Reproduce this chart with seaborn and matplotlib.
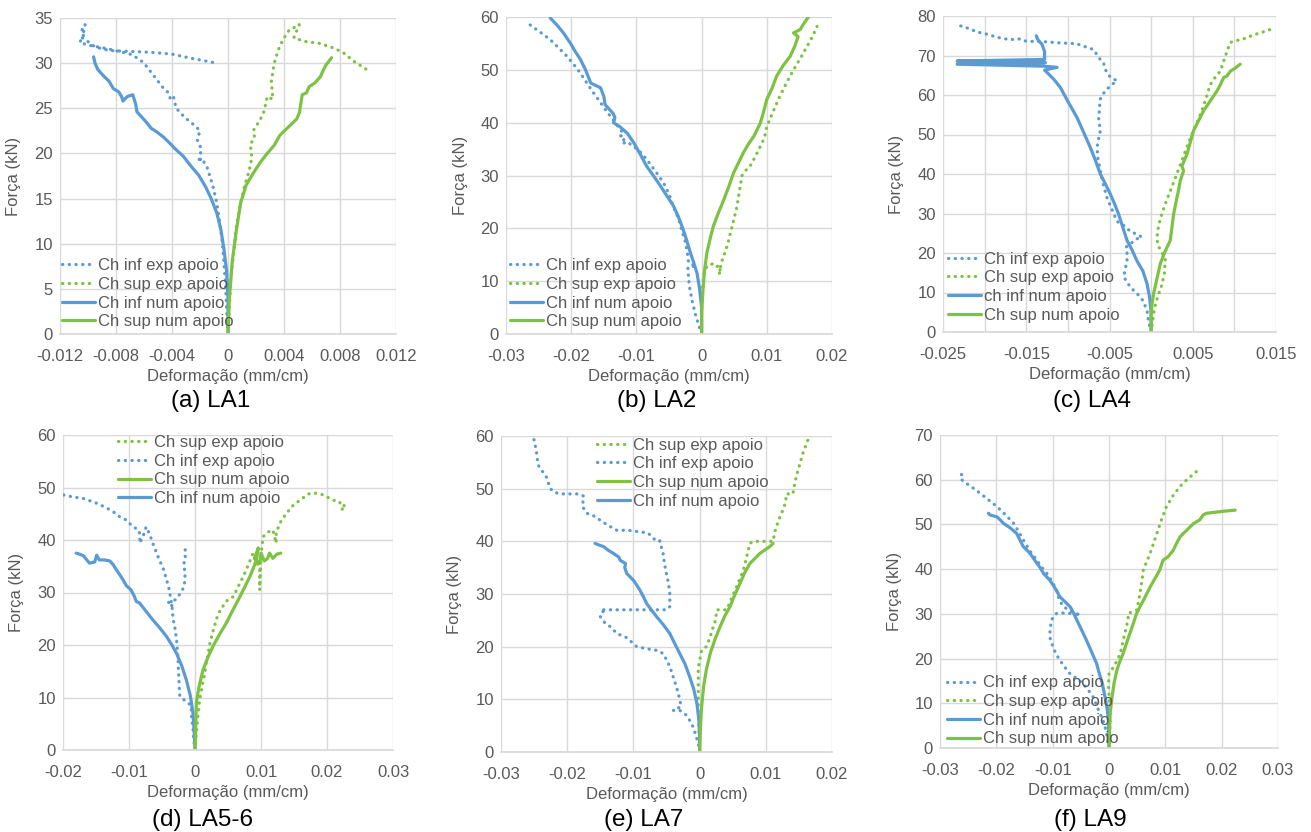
import numpy as np
import pandas as pd
import seaborn as sns
import matplotlib
matplotlib.use("Agg")
import matplotlib.pyplot as plt
from matplotlib.lines import Line2D

# ---------------- DATA ----------------
# (a) LA1
a_inf_exp_x = [0, -0.0001, -0.0002, -0.0003, -0.0004, -0.0006, -0.0008, -0.0011, -0.0015, -0.0019, -0.0021, -0.0019, -0.0022, -0.0020, -0.0023, -0.0027, -0.0031, -0.0034, -0.0037, -0.0039, -0.0041, -0.0043, -0.0045, -0.0050, -0.0055, -0.0060, -0.0064, -0.0070, -0.0078, -0.0086, -0.0093, -0.0100, -0.0106, -0.0103, -0.0105, -0.0102, -0.0104, -0.0101, -0.0095, -0.0085, -0.0070, -0.0055, -0.0040, -0.0025, -0.0008]
a_inf_exp_y = [0, 3, 6, 8, 10, 12.5, 14.5, 16.5, 18.5, 19.5, 19.0, 20.5, 21.5, 22.5, 23.0, 23.5, 24.0, 24.5, 25.0, 26.3, 26.0, 26.8, 27.0, 28.0, 29.0, 30.0, 30.5, 31.0, 31.3, 31.6, 31.8, 32.0, 32.3, 33.0, 33.5, 34.3, 32.8, 32.5, 31.8, 31.4, 31.3, 31.2, 31.0, 30.5, 30.0]
a_inf_num_x = [0, 0, -0.0001, -0.0003, -0.0005, -0.0008, -0.0012, -0.0016, -0.0021, -0.0027, -0.0032, -0.0037, -0.0042, -0.0046, -0.0051, -0.0055, -0.0058, -0.0062, -0.0065, -0.0066, -0.0068, -0.0072, -0.0075, -0.0076, -0.0078, -0.0082, -0.0085, -0.0089, -0.0093, -0.0095, -0.0096]
a_inf_num_y = [0, 4, 7, 9.5, 11.5, 13.4, 15, 16.3, 17.6, 18.7, 19.7, 20.4, 21.2, 21.8, 22.4, 22.8, 23.4, 24.1, 24.6, 25.5, 26.5, 26.3, 25.8, 26.3, 26.8, 27.2, 28.0, 28.6, 29.3, 30.0, 30.7]
a_sup_exp_x = [0, 0.0001, 0.0002, 0.0004, 0.0006, 0.0009, 0.0012, 0.0015, 0.0017, 0.0016, 0.0019, 0.0018, 0.0022, 0.0025, 0.0027, 0.0028, 0.0032, 0.0031, 0.0033, 0.0036, 0.0039, 0.0042, 0.0044, 0.0048, 0.0051, 0.0047, 0.0055, 0.0065, 0.0075, 0.0082, 0.0090, 0.0099]
a_sup_exp_y = [0, 3, 6, 9, 12, 14.5, 16.5, 18.0, 19.5, 21.0, 21.8, 22.5, 23.5, 24.3, 25.5, 26.3, 26.0, 28.0, 30.0, 31.5, 32.5, 33.3, 33.7, 34.0, 34.3, 32.8, 32.4, 32.2, 31.7, 31.2, 30.2, 29.3]
a_sup_num_x = [0, 0.0001, 0.0003, 0.0006, 0.0009, 0.0013, 0.0018, 0.0023, 0.0028, 0.0033, 0.0037, 0.0041, 0.0045, 0.0049, 0.0051, 0.0052, 0.0053, 0.0056, 0.0058, 0.0062, 0.0066, 0.0068, 0.0070, 0.0072, 0.0074]
a_sup_num_y = [0, 4, 8, 11.5, 14.5, 16.5, 17.8, 19.0, 20.0, 20.9, 22.0, 22.6, 23.2, 23.8, 24.5, 25.5, 26.5, 26.7, 27.4, 27.8, 28.5, 29.2, 29.8, 30.2, 30.6]

# (b) LA2
b_inf_exp_x = [0, -0.0004, -0.0009, -0.0014, -0.0018, -0.0020, -0.0021, -0.0019, -0.0008, -0.0020, -0.0022, -0.0025, -0.0030, -0.0036, -0.0043, -0.0050, -0.0058, -0.0066, -0.0075, -0.0084, -0.0092, -0.0100, -0.0108, -0.0114, -0.0122, -0.0118, -0.0124, -0.0120, -0.0128, -0.0135, -0.0145, -0.0155, -0.0165, -0.0176, -0.0186, -0.0196, -0.0206, -0.0218, -0.0232, -0.0246, -0.0263]
b_inf_exp_y = [0, 1.5, 3.5, 6, 8.5, 10.5, 12.5, 12.8, 12.8, 13.5, 15.5, 17.5, 19.5, 22, 24, 26.5, 28.5, 30, 31.5, 33, 34.2, 35.1, 35.8, 36.4, 36, 37.2, 37.5, 38, 39.2, 40.5, 42, 43.8, 45.5, 47.5, 49.4, 51, 52.5, 54, 55.7, 57, 58.5]
b_inf_num_x = [0, 0, -0.0003, -0.0007, -0.0012, -0.0017, -0.0023, -0.0030, -0.0036, -0.0043, -0.0053, -0.0063, -0.0074, -0.0084, -0.0094, -0.0104, -0.0114, -0.0125, -0.0135, -0.0133, -0.0136, -0.0148, -0.0150, -0.0155, -0.0170, -0.0178, -0.0186, -0.0194, -0.0201, -0.0212, -0.0222, -0.0232]
b_inf_num_y = [0, 5, 8.5, 11.5, 13.5, 15.3, 17.8, 20.4, 22.3, 24.2, 26.1, 28, 30, 31.7, 34, 36.2, 38, 39.2, 40, 41, 41.8, 43.4, 45, 46.6, 47.5, 50, 52, 53.5, 55, 57, 58.5, 59.8]
b_sup_exp_x = [0, 0, 0.0001, 0.0003, 0.0008, 0.0013, 0.0018, 0.0024, 0.0029, 0.0027, 0.0030, 0.0034, 0.0036, 0.0040, 0.0044, 0.0049, 0.0054, 0.0058, 0.0062, 0.0068, 0.0074, 0.0082, 0.0090, 0.0095, 0.0097, 0.0100, 0.0110, 0.0120, 0.0130, 0.0141, 0.0152, 0.0162, 0.0170, 0.0177]
b_sup_exp_y = [0, 4, 8, 11, 12.8, 13, 13.4, 12.8, 12.8, 11.2, 13.5, 14.7, 15.5, 17.0, 19.0, 21.5, 24.0, 27.0, 30.0, 31.0, 31.7, 33.5, 35.5, 36.8, 37.5, 39.3, 42.2, 45.0, 47.5, 50.0, 52.3, 54.5, 56.3, 58.2]
b_sup_num_x = [0, 0, 0.0002, 0.0004, 0.0008, 0.0013, 0.0018, 0.0026, 0.0034, 0.0042, 0.0049, 0.0057, 0.0064, 0.0072, 0.0080, 0.0090, 0.0095, 0.0100, 0.0108, 0.0115, 0.0125, 0.0136, 0.0143, 0.0148, 0.0141, 0.0151, 0.0158, 0.0164]
b_sup_num_y = [0, 4, 8, 11.5, 15.3, 18, 20.4, 23, 25.4, 28, 30.5, 32.5, 34.3, 36, 37.4, 39.9, 42, 44.4, 46.5, 48.8, 50.8, 52.6, 54.5, 56.3, 57, 57.6, 59, 60]

# (c) LA4
c_inf_exp_x = [0, -0.0003, -0.0005, -0.0010, -0.0016, -0.0021, -0.0027, -0.0033, -0.0031, -0.0029, -0.0029, -0.0030, -0.0017, -0.0011, -0.0015, -0.0025, -0.0033, -0.0041, -0.0047, -0.0053, -0.0057, -0.0061, -0.0064, -0.0065, -0.0063, -0.0061, -0.0063, -0.0062, -0.0061, -0.0058, -0.0053, -0.0046, -0.0041, -0.0049, -0.0054, -0.0057, -0.0063, -0.0069, -0.0090, -0.0110, -0.0129, -0.0150, -0.0157, -0.0170, -0.0185, -0.0197, -0.0210, -0.0217, -0.0229]
c_inf_exp_y = [0, 2.5, 5.5, 8, 9.5, 10.5, 12, 14, 16, 18, 20, 21.5, 23.6, 24, 24.5, 25.5, 27, 28, 31, 34, 37, 40.8, 44, 46.7, 49, 51, 54, 56.8, 59, 60.2, 61.5, 62.8, 63.6, 64.5, 66, 68, 69.5, 71.5, 73.0, 73.2, 73.5, 73.6, 74.2, 74.0, 74.6, 75.4, 76.0, 76.7, 77.5]
c_inf_num_x = [0, 0, -0.0002, -0.0005, -0.0010, -0.0017, -0.0023, -0.0029, -0.0034, -0.0039, -0.0044, -0.0049, -0.0055, -0.0061, -0.0067, -0.0073, -0.0081, -0.0089, -0.0099, -0.0109, -0.0117, -0.0125, -0.0128, -0.0113, -0.0129, -0.0233, -0.0127, -0.0233, -0.0128, -0.0128, -0.0131, -0.0136, -0.0138]
c_inf_num_y = [0, 5, 9, 12.3, 15.5, 18, 20.8, 23.2, 26.5, 29.8, 32.5, 34.9, 37.5, 40, 43.5, 46.7, 50.5, 54.3, 58, 61.9, 64, 65.7, 66.3, 67.0, 67.3, 67.8, 68.2, 68.6, 69.0, 71.0, 72.8, 74.0, 75.0]
c_sup_exp_x = [0, 0.0002, 0.0004, 0.0008, 0.0013, 0.0016, 0.0017, 0.0012, 0.0008, 0.0007, 0.0009, 0.0013, 0.0018, 0.0023, 0.0029, 0.0035, 0.0041, 0.0047, 0.0053, 0.0059, 0.0065, 0.0071, 0.0077, 0.0083, 0.0087, 0.0091, 0.0095, 0.0103, 0.0111, 0.0123, 0.0135, 0.0142, 0.0149]
c_sup_exp_y = [0, 3, 6, 9, 12, 15, 18.5, 20.5, 22, 24, 27, 30, 33, 35.7, 39, 42.3, 45.7, 49, 52, 55, 58.5, 62.6, 64.5, 66, 68.5, 71, 73.3, 73.8, 74.2, 75.2, 76.0, 76.5, 77]
c_sup_num_x = [0, 0, 0.0001, 0.0003, 0.0007, 0.0011, 0.0017, 0.0023, 0.0025, 0.0027, 0.0030, 0.0033, 0.0035, 0.0039, 0.0037, 0.0043, 0.0047, 0.0051, 0.0057, 0.0063, 0.0071, 0.0079, 0.0083, 0.0087, 0.0091, 0.0095, 0.0101, 0.0107]
c_sup_num_y = [0, 4, 7, 9.7, 13.5, 17.3, 20.5, 23.2, 26.5, 29.8, 33, 36, 38.3, 40.8, 42, 45, 48, 51, 53.5, 56, 58.5, 61, 62.5, 64.4, 64.8, 66, 66.8, 67.8]

# (d) LA5-6
d_inf_exp_x = [0, -0.0002, -0.0003, -0.0005, -0.0006, -0.0023, -0.0024, -0.0025, -0.0026, -0.0028, -0.0030, -0.0033, -0.0035, -0.0039, -0.0043, -0.0048, -0.0054, -0.0059, -0.0064, -0.0069, -0.0074, -0.0079, -0.0084, -0.0083, -0.0086, -0.0094, -0.0104, -0.0115, -0.0125, -0.0137, -0.0149, -0.0160, -0.0169, -0.0185, -0.0200]
d_inf_exp_y = [0, 2, 4, 6, 8.5, 10.2, 12.5, 15, 18, 21, 23, 24.8, 27.5, 30.5, 32.4, 34.5, 36.2, 37.8, 39.4, 41.2, 42.5, 40.6, 39.4, 41, 42, 42.5, 43.8, 44.5, 45.5, 46.3, 47, 47.5, 47.9, 48.2, 48.6]
d_inf_exp2_x = [-0.0035, -0.0042, -0.0030, -0.0024, -0.0019, -0.0016, -0.0015, -0.0017, -0.0014, -0.0016, -0.0013]
d_inf_exp2_y = [27.5, 28.0, 28.6, 29.5, 30.5, 31.5, 33.5, 35.5, 36.5, 37.5, 39.0]
d_inf_num_x = [0, -0.0001, -0.0003, -0.0007, -0.0013, -0.0020, -0.0028, -0.0035, -0.0043, -0.0053, -0.0064, -0.0074, -0.0084, -0.0089, -0.0092, -0.0097, -0.0104, -0.0109, -0.0114, -0.0119, -0.0124, -0.0129, -0.0137, -0.0145, -0.0149, -0.0152, -0.0160, -0.0169, -0.0175, -0.0180]
d_inf_num_y = [0, 3, 7, 10.3, 13.3, 16, 18.4, 20, 21.6, 23.2, 24.8, 26.4, 28, 28.3, 29.3, 30.5, 31.3, 32.4, 33.4, 34.3, 35.3, 36.0, 36.2, 36.2, 37.1, 35.8, 35.6, 37.0, 37.3, 37.5]
d_sup_exp_x = [0, 0.0002, 0.0004, 0.0007, 0.0010, 0.0012, 0.0015, 0.0017, 0.0020, 0.0022, 0.0027, 0.0032, 0.0037, 0.0042, 0.0047, 0.0052, 0.0058, 0.0065, 0.0073, 0.0080, 0.0088, 0.0093, 0.0098, 0.0098, 0.0100, 0.0103, 0.0110, 0.0118, 0.0123, 0.0123, 0.0130, 0.0138, 0.0148, 0.0159, 0.0167, 0.0174, 0.0185, 0.0194, 0.0209, 0.0219, 0.0224, 0.0226, 0.0229]
d_sup_exp_y = [0, 3, 6, 9.5, 11.5, 13, 14.6, 16.5, 18.4, 20, 22.5, 24.8, 26.3, 27.3, 28.3, 28.8, 29.2, 31, 33, 35, 37.5, 36, 34.3, 30.5, 37, 40.6, 41.5, 41.9, 39.4, 41.5, 43.5, 45, 46.5, 47.6, 48.3, 48.9, 48.9, 48.6, 47.6, 47.3, 45.6, 46.6, 47.6]
d_sup_num_x = [0, 0.0001, 0.0002, 0.0006, 0.0012, 0.0019, 0.0027, 0.0037, 0.0047, 0.0058, 0.0068, 0.0076, 0.0083, 0.0088, 0.0093, 0.0096, 0.0090, 0.0098, 0.0100, 0.0105, 0.0110, 0.0113, 0.0118, 0.0124, 0.0130]
d_sup_num_y = [0, 4, 8.9, 12, 15.2, 17.5, 19.7, 22, 24.1, 26.8, 29.2, 31.2, 33, 34.5, 36.2, 38.5, 36.5, 35.5, 37.5, 36.0, 36.5, 37.5, 36.5, 37.3, 37.5]

# (e) LA7
e_inf_exp_x = [0, -0.0002, -0.0005, -0.0010, -0.0015, -0.0020, -0.0025, -0.0030, -0.0040, -0.0028, -0.0030, -0.0035, -0.0040, -0.0045, -0.0050, -0.0055, -0.0065, -0.0080, -0.0095, -0.0110, -0.0125, -0.0135, -0.0143, -0.0150, -0.0145, -0.0150, -0.0130, -0.0100, -0.0070, -0.0050, -0.0045, -0.0045, -0.0047, -0.0050, -0.0053, -0.0055, -0.0058, -0.0060, -0.0065, -0.0078, -0.0090, -0.0108, -0.0125, -0.0138, -0.0150, -0.0162, -0.0170, -0.0177, -0.0175, -0.0185, -0.0200, -0.0212, -0.0222, -0.0226, -0.0231, -0.0238, -0.0244, -0.0246, -0.0248, -0.0251]
e_inf_exp_y = [0, 1.5, 2.9, 4.8, 6, 7, 7.5, 7.9, 7.9, 8.6, 10, 12.4, 14.3, 16.2, 17.5, 18.7, 19.3, 19.6, 20, 21.7, 22.5, 23.8, 24.5, 25.7, 26.6, 27, 27, 27, 27, 27, 27.6, 30, 32, 33.8, 35.7, 37.6, 39, 40.1, 40, 41.6, 41.8, 42.1, 42.1, 43, 44, 45, 45.3, 46.6, 48.6, 49, 49, 49, 49.5, 50.2, 52.1, 53.4, 54.5, 56.6, 58, 59.8]
e_inf_num_x = [0, 0, -0.0001, -0.0004, -0.0009, -0.0015, -0.0022, -0.0030, -0.0038, -0.0045, -0.0055, -0.0065, -0.0073, -0.0080, -0.0085, -0.0090, -0.0095, -0.0100, -0.0110, -0.0113, -0.0112, -0.0120, -0.0122, -0.0130, -0.0138, -0.0145, -0.0152, -0.0158]
e_inf_num_y = [0, 3, 6, 9.2, 12, 14.3, 16.7, 18.7, 20.7, 22.5, 24.2, 25.7, 27, 28.2, 29.5, 30.7, 31.7, 32.6, 33.9, 35, 35.8, 36.4, 37, 37.7, 38.3, 39, 39.3, 39.6]
e_sup_exp_x = [0, -0.0001, -0.0002, -0.0002, -0.0002, 0.0003, 0.0010, 0.0015, 0.0020, 0.0024, 0.0026, 0.0033, 0.0041, 0.0046, 0.0051, 0.0058, 0.0066, 0.0071, 0.0076, 0.0081, 0.0095, 0.0111, 0.0113, 0.0116, 0.0121, 0.0126, 0.0130, 0.0131, 0.0136, 0.0141, 0.0143, 0.0146, 0.0151, 0.0156, 0.0161, 0.0166]
e_sup_exp_y = [0, 4, 8, 12.4, 16, 19.3, 20, 21.5, 23.5, 25, 27, 27, 27, 28.5, 30, 32, 34.5, 37, 39.6, 40, 40, 40, 41.5, 42.8, 44.5, 46, 47.5, 49, 49, 49, 50.5, 52.3, 54.5, 56.7, 58.4, 60]
e_sup_num_x = [0, 0.0001, 0.0003, 0.0006, 0.0010, 0.0016, 0.0023, 0.0031, 0.0038, 0.0046, 0.0053, 0.0061, 0.0068, 0.0076, 0.0084, 0.0091, 0.0099, 0.0106, 0.0111]
e_sup_num_y = [0, 4, 8.5, 12.4, 15.5, 18.7, 21.3, 23.8, 25.8, 27.6, 29.8, 32, 34, 35.8, 36.8, 37.7, 38.4, 39, 39.6]

# (f) LA9
f_inf_exp_x = [0, -0.0003, -0.0007, -0.0011, -0.0016, -0.0022, -0.0028, -0.0037, -0.0046, -0.0057, -0.0069, -0.0078, -0.0087, -0.0094, -0.0099, -0.0104, -0.0105, -0.0104, -0.0102, -0.0098, -0.0093, -0.0081, -0.0069, -0.0051, -0.0065, -0.0080, -0.0088, -0.0093, -0.0100, -0.0110, -0.0120, -0.0128, -0.0140, -0.0152, -0.0160, -0.0169, -0.0184, -0.0199, -0.0214, -0.0228, -0.0243, -0.0258, -0.0264, -0.0260]
f_inf_exp_y = [0, 2.5, 4.7, 6.3, 7.7, 9.5, 11.4, 13, 14.4, 15.5, 16.6, 18, 19.6, 21, 22.6, 24, 25.6, 27, 28.6, 29.5, 30.1, 30.2, 30.1, 29.7, 30.5, 31.5, 33, 35.3, 37, 39, 40.5, 42, 44, 46.5, 48.3, 50.2, 52.2, 54, 55.5, 56.9, 58.3, 59.6, 60.3, 61.8]
f_inf_num_x = [0, -0.0001, -0.0003, -0.0007, -0.0012, -0.0018, -0.0022, -0.0031, -0.0040, -0.0049, -0.0057, -0.0063, -0.0069, -0.0078, -0.0087, -0.0096, -0.0105, -0.0110, -0.0116, -0.0122, -0.0128, -0.0134, -0.0140, -0.0146, -0.0152, -0.0158, -0.0164, -0.0175, -0.0187, -0.0193, -0.0199, -0.0205, -0.0211, -0.0214]
f_inf_num_y = [0, 6.2, 8.5, 11.4, 14.5, 17, 18.9, 21.5, 24.1, 26.5, 28.6, 30.2, 31.6, 32.7, 33.8, 35.8, 37.5, 38.2, 39, 40.3, 41.3, 42.4, 43.5, 44.3, 45, 46.5, 48, 49.2, 50.2, 51, 51.7, 51.9, 52.1, 52.5]
f_sup_exp_x = [0, 0.0002, 0.0001, -0.0001, 0.0000, 0.0008, 0.0014, 0.0020, 0.0025, 0.0031, 0.0034, 0.0034, 0.0049, 0.0052, 0.0055, 0.0058, 0.0061, 0.0067, 0.0073, 0.0079, 0.0085, 0.0093, 0.0102, 0.0114, 0.0126, 0.0140, 0.0155]
f_sup_exp_y = [0, 6.2, 10, 14, 16.6, 18.1, 19.5, 21.1, 24, 27.1, 29, 30.1, 30.8, 32.5, 34.6, 37, 39.8, 41.7, 43.5, 45.8, 48, 51, 54, 56.5, 58.5, 60.2, 61.8]
f_sup_num_x = [0, 0.0002, 0.0005, 0.0009, 0.0014, 0.0019, 0.0025, 0.0031, 0.0037, 0.0043, 0.0049, 0.0055, 0.0061, 0.0067, 0.0073, 0.0082, 0.0090, 0.0096, 0.0105, 0.0114, 0.0120, 0.0126, 0.0132, 0.0138, 0.0150, 0.0161, 0.0167, 0.0173, 0.0200, 0.0224]
f_sup_num_y = [0, 7.7, 11, 14.5, 17.4, 19.3, 21.1, 23.4, 25.6, 27.8, 30.1, 31.6, 33, 34.5, 36, 38, 39.8, 42, 42.8, 44.2, 45.8, 47.2, 48, 48.7, 50.2, 51, 52.1, 52.5, 52.9, 53.2]

# ticks / labels
a_xticks = [-0.012, -0.008, -0.004, 0, 0.004, 0.008, 0.012]
a_xlabels = ["-0.012", "-0.008", "-0.004", "0", "0.004", "0.008", "0.012"]
a_yticks = [0, 5, 10, 15, 20, 25, 30, 35]
b_xticks = [-0.03, -0.02, -0.01, 0, 0.01, 0.02]
b_xlabels = ["-0.03", "-0.02", "-0.01", "0", "0.01", "0.02"]
b_yticks = [0, 10, 20, 30, 40, 50, 60]
c_xticks = [-0.025, -0.02, -0.015, -0.01, -0.005, 0, 0.005, 0.01, 0.015]
c_xlabels = ["-0.025", "", "-0.015", "", "-0.005", "", "0.005", "", "0.015"]
c_yticks = [0, 10, 20, 30, 40, 50, 60, 70, 80]
d_xticks = [-0.02, -0.01, 0, 0.01, 0.02, 0.03]
d_xlabels = ["-0.02", "-0.01", "0", "0.01", "0.02", "0.03"]
d_yticks = [0, 10, 20, 30, 40, 50, 60]
e_xticks = [-0.03, -0.02, -0.01, 0, 0.01, 0.02]
e_xlabels = ["-0.03", "-0.02", "-0.01", "0", "0.01", "0.02"]
e_yticks = [0, 10, 20, 30, 40, 50, 60]
f_xticks = [-0.03, -0.02, -0.01, 0, 0.01, 0.02, 0.03]
f_xlabels = ["-0.03", "-0.02", "-0.01", "0", "0.01", "0.02", "0.03"]
f_yticks = [0, 10, 20, 30, 40, 50, 60, 70]

captions = ["(a) LA1", "(b) LA2", "(c) LA4", "(d) LA5-6", "(e) LA7", "(f) LA9"]
leg_std = ["Ch inf exp apoio", "Ch sup exp apoio", "Ch inf num apoio", "Ch sup num apoio"]
leg_c = ["Ch inf exp apoio", "Ch sup exp apoio", "ch inf num apoio", "Ch sup num apoio"]
leg_top = ["Ch sup exp apoio", "Ch inf exp apoio", "Ch sup num apoio", "Ch inf num apoio"]

# ---------------- STYLE ----------------
sns.set_theme(style="white")
plt.rcParams['font.family'] = ['Liberation Sans', 'DejaVu Sans']
BLUE = "#5B9BD5"
GREEN = "#7DC242"
GRAY = "#595959"
GRID = "#D9D9D9"
LW = 2.3
DOT = (0, (0.1, 2.0))

W, H = 1311, 832
fig = plt.figure(figsize=(W / 100, H / 100), dpi=100)
fig.patch.set_facecolor("white")


def make_ax(x0, x1, ytop, ybot):
    return fig.add_axes([x0 / W, 1 - ybot / H, (x1 - x0) / W, (ybot - ytop) / H])


def draw(ax, x, y, color, dotted):
    df = pd.DataFrame({"x": x, "y": y})
    kw = dict(linestyle=DOT, dash_capstyle="round") if dotted else dict(solid_capstyle="round")
    sns.lineplot(data=df, x="x", y="y", sort=False, estimator=None, ax=ax,
                 color=color, linewidth=LW, legend=False, **kw)


def style(ax, box, xt, xl, yt):
    x0, x1, ytop, ybot = box
    wpx, hpx = x1 - x0, ybot - ytop
    ax.set_xlim(xt[0], xt[-1])
    ax.set_ylim(yt[0], yt[-1])
    ax.set_xticks(xt)
    ax.set_xticklabels(xl)
    ax.set_yticks(yt)
    ax.set_yticklabels([str(v) for v in yt])
    ax.grid(True, color=GRID, linewidth=1.0)
    ax.set_axisbelow(True)
    for s in ["top", "right", "left"]:
        ax.spines[s].set_visible(False)
    ax.spines["bottom"].set_color(GRID)
    ax.tick_params(axis="both", length=0, labelsize=12, labelcolor=GRAY)
    ax.tick_params(axis="x", pad=11)
    ax.tick_params(axis="y", pad=5)
    ax.set_xlabel("Deformação (mm/cm)", fontsize=12, color=GRAY)
    ax.set_ylabel("Força (kN)", fontsize=12, color=GRAY)
    ax.xaxis.set_label_coords(0.5, -43 / hpx)
    ax.xaxis.label.set_verticalalignment("center")
    ax.yaxis.set_label_coords(-46 / wpx, 0.5)
    ax.yaxis.label.set_verticalalignment("center")


def handles(order):
    sty = {"inf_exp": (BLUE, True), "sup_exp": (GREEN, True),
           "inf_num": (BLUE, False), "sup_num": (GREEN, False)}
    hs = []
    for k in order:
        c, d = sty[k]
        if d:
            hs.append(Line2D([], [], color=c, linewidth=LW, linestyle=DOT, dash_capstyle="round"))
        else:
            hs.append(Line2D([], [], color=c, linewidth=LW))
    return hs


def legend(ax, labels, order, loc, anchor):
    lg = ax.legend(handles(order), labels, loc=loc, bbox_to_anchor=anchor, frameon=False,
                   fontsize=12, handlelength=2.0, handletextpad=0.15, labelspacing=0.22,
                   borderpad=0.0, borderaxespad=0.0)
    for t in lg.get_texts():
        t.set_color(GRAY)


panels = [
    ((60, 396, 18, 334), (a_inf_exp_x, a_inf_exp_y, a_inf_num_x, a_inf_num_y, a_sup_exp_x, a_sup_exp_y, a_sup_num_x, a_sup_num_y), (a_xticks, a_xlabels, a_yticks)),
    ((506, 832, 17, 334), (b_inf_exp_x, b_inf_exp_y, b_inf_num_x, b_inf_num_y, b_sup_exp_x, b_sup_exp_y, b_sup_num_x, b_sup_num_y), (b_xticks, b_xlabels, b_yticks)),
    ((943, 1276, 16, 332), (c_inf_exp_x, c_inf_exp_y, c_inf_num_x, c_inf_num_y, c_sup_exp_x, c_sup_exp_y, c_sup_num_x, c_sup_num_y), (c_xticks, c_xlabels, c_yticks)),
    ((63, 393, 435, 750), (d_inf_exp_x, d_inf_exp_y, d_inf_num_x, d_inf_num_y, d_sup_exp_x, d_sup_exp_y, d_sup_num_x, d_sup_num_y), (d_xticks, d_xlabels, d_yticks)),
    ((501, 832, 436, 752), (e_inf_exp_x, e_inf_exp_y, e_inf_num_x, e_inf_num_y, e_sup_exp_x, e_sup_exp_y, e_sup_num_x, e_sup_num_y), (e_xticks, e_xlabels, e_yticks)),
    ((940, 1278, 435, 748), (f_inf_exp_x, f_inf_exp_y, f_inf_num_x, f_inf_num_y, f_sup_exp_x, f_sup_exp_y, f_sup_num_x, f_sup_num_y), (f_xticks, f_xlabels, f_yticks)),
]

axes = []
for i, (box, data, tk) in enumerate(panels):
    ax = make_ax(*box)
    ie_x, ie_y, in_x, in_y, se_x, se_y, sn_x, sn_y = data
    draw(ax, ie_x, ie_y, BLUE, True)
    if i == 3:
        draw(ax, d_inf_exp2_x, d_inf_exp2_y, BLUE, True)
    draw(ax, se_x, se_y, GREEN, True)
    draw(ax, in_x, in_y, BLUE, False)
    draw(ax, sn_x, sn_y, GREEN, False)
    style(ax, box, *tk)
    axes.append(ax)

std_order = ["inf_exp", "sup_exp", "inf_num", "sup_num"]
top_order = ["sup_exp", "inf_exp", "sup_num", "inf_num"]
legend(axes[0], leg_std, std_order, "lower left", (0.006, 0.015))
legend(axes[1], leg_std, std_order, "lower left", (0.012, 0.015))
legend(axes[2], leg_c, std_order, "lower left", (0.015, 0.03))
legend(axes[3], leg_top, top_order, "upper left", (0.167, 1.0))
legend(axes[4], leg_top, top_order, "upper left", (0.29, 0.995))
legend(axes[5], leg_std, std_order, "lower left", (0.02, 0.005))

cap_pos = [(211, 401), (657, 401), (1092, 401), (203, 820), (644, 820), (1090, 820)]
for txt, (cx, cy) in zip(captions, cap_pos):
    fig.text(cx / W, 1 - cy / H, txt, ha="center", va="center", fontsize=17.5, color="black")

fig.savefig("out.png", dpi=100, facecolor="white")
